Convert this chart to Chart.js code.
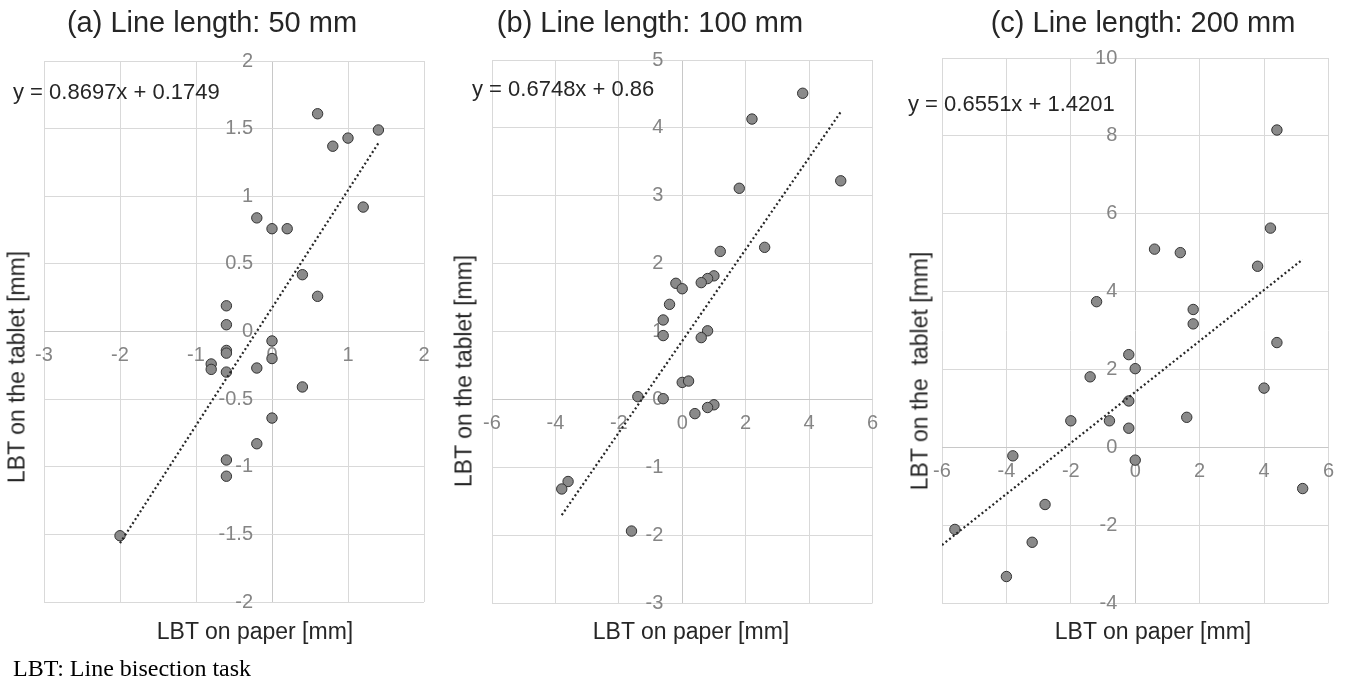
<!DOCTYPE html>
<html>
<head>
<meta charset="utf-8">
<script src="https://cdn.jsdelivr.net/npm/chart.js@4.4.0/dist/chart.umd.min.js"></script>
<style>
    body { margin: 0; background: #fff; width: 1346px; height: 684px; position: relative; overflow: hidden;
           font-family: "Liberation Sans", Arial, sans-serif; color: #262626; }
    canvas { position: absolute; top: 0; }
    .t { position: absolute; line-height: 1; white-space: pre; }
    .title { font-size: 29px; transform: translateX(-50%); }
    .xt { font-size: 23px; transform: translateX(-50%); }
    .yt { font-size: 23px; transform: translate(-50%, -50%) rotate(-90deg); }
    .eq { font-size: 22px; }
    .note { font-family: "Liberation Serif", "Times New Roman", serif; font-size: 24px; left: 13px; top: 656px; color: #000; }
</style>
</head>
<body>
<canvas id="chartA" width="445" height="684" style="left:0px"></canvas>
<canvas id="chartB" width="445" height="684" style="left:445px"></canvas>
<canvas id="chartC" width="456" height="684" style="left:890px"></canvas>

<div class="t title" id="titleA" style="left:212px; top:8px"></div>
<div class="t title" id="titleB" style="left:650px; top:8px"></div>
<div class="t title" id="titleC" style="left:1143px; top:8px"></div>

<div class="t eq" id="eqA" style="left:13px; top:81px"></div>
<div class="t eq" id="eqB" style="left:472px; top:78px"></div>
<div class="t eq" id="eqC" style="left:908px; top:93px"></div>

<div class="t xt" id="xtA" style="left:255px; top:620px"></div>
<div class="t xt" id="xtB" style="left:691px; top:620px"></div>
<div class="t xt" id="xtC" style="left:1153px; top:620px"></div>

<div class="t yt" id="ytA" style="left:17px; top:367px"></div>
<div class="t yt" id="ytB" style="left:464px; top:371px"></div>
<div class="t yt" id="ytC" style="left:920px; top:371px"></div>

<div class="t note" id="note"></div>

<script>
// (a) 50 mm
const aX = [0.6, 0.8, 1.0, 1.4, 1.2, -0.2, 0, 0.2, 0.4, 0.6, -0.6, -0.6, 0, -0.6, -0.6, 0, -0.8, -0.8, -0.6, -0.2, 0.4, 0, -0.2, -0.6, -0.6, -2];
const aY = [1.61, 1.37, 1.43, 1.49, 0.92, 0.84, 0.76, 0.76, 0.42, 0.26, 0.19, 0.05, -0.07, -0.14, -0.16, -0.2, -0.24, -0.28, -0.3, -0.27, -0.41, -0.64, -0.83, -0.95, -1.07, -1.51];
const aTrend = [0.8697, 0.1749];
const aTrendX = [-2, 1.4];
const aXTicks = [-3, -2, -1, 0, 1, 2];
const aYTicks = [-2, -1.5, -1, -0.5, 0, 0.5, 1, 1.5, 2];

// (b) 100 mm
const bX = [3.8, 2.2, 1.8, 5.0, 2.6, 1.2, 1.0, 0.8, 0.6, -0.2, 0, -0.4, -0.6, -0.6, 0.8, 0.6, 0, 0.2, -1.4, -0.6, 1.0, 0.8, 0.4, -3.6, -3.8, -1.6];
const bY = [4.51, 4.13, 3.11, 3.22, 2.24, 2.18, 1.82, 1.78, 1.72, 1.71, 1.63, 1.40, 1.17, 0.94, 1.01, 0.91, 0.25, 0.27, 0.04, 0.01, -0.08, -0.12, -0.21, -1.21, -1.32, -1.94];
const bTrend = [0.6748, 0.86];
const bTrendX = [-3.8, 5.0];
const bXTicks = [-6, -4, -2, 0, 2, 4, 6];
const bYTicks = [-3, -2, -1, 0, 1, 2, 3, 4, 5];

// (c) 200 mm
const cX = [4.4, 4.2, 0.6, 1.4, 3.8, -1.2, 1.8, 1.8, 4.4, -0.2, 0, -1.4, 4.0, -0.2, -2.0, -0.8, 1.6, -0.2, -3.8, 0, 5.2, -2.8, -5.6, -3.2, -4.0];
const cY = [8.15, 5.63, 5.09, 5.0, 4.65, 3.74, 3.54, 3.17, 2.69, 2.38, 2.02, 1.81, 1.52, 1.19, 0.68, 0.68, 0.77, 0.49, -0.22, -0.33, -1.06, -1.47, -2.11, -2.44, -3.32];
const cTrend = [0.6551, 1.4201];
const cTrendX = [-6, 5.2];
const cXTicks = [-6, -4, -2, 0, 2, 4, 6];
const cYTicks = [-4, -2, 0, 2, 4, 6, 8, 10];

const titles = ['(a) Line length: 50 mm', '(b) Line length: 100 mm', '(c) Line length: 200 mm'];
const equations = ['y = 0.8697x + 0.1749', 'y = 0.6748x + 0.86', 'y = 0.6551x + 1.4201'];
const xTitles = ['LBT on paper [mm]', 'LBT on paper [mm]', 'LBT on paper [mm]'];
const yTitles = ['LBT on the tablet [mm]', 'LBT on the tablet [mm]', 'LBT on the  tablet [mm]'];
const note = 'LBT: Line bisection task';

['A', 'B', 'C'].forEach((k, i) => {
    document.getElementById('title' + k).textContent = titles[i];
    document.getElementById('eq' + k).textContent = equations[i];
    document.getElementById('xt' + k).textContent = xTitles[i];
    document.getElementById('yt' + k).textContent = yTitles[i];
});
document.getElementById('note').textContent = note;

const tickFont = { family: '"Liberation Sans", Arial, sans-serif', size: 20 };
const tickColor = '#858585';

function makeChart(id, xs, ys, trend, trendX, xTicks, yTicks, pad, labelGap) {
    const canvas = document.getElementById(id);
    const xMin = xTicks[0], xMax = xTicks[xTicks.length - 1];
    const yMin = yTicks[0], yMax = yTicks[yTicks.length - 1];
    // y labels sit a little left of the x = 0 line
    const pxPerUnit = (canvas.width - pad.left - pad.right) / (xMax - xMin);
    const yAxisAt = -labelGap / pxPerUnit;

    const points = xs.map((x, i) => ({ x: x, y: ys[i] }));
    const line = trendX.map(x => ({ x: x, y: trend[0] * x + trend[1] }));

    return new Chart(canvas.getContext('2d'), {
        type: 'scatter',
        data: {
            datasets: [{
                type: 'line',
                data: line,
                borderColor: '#262626',
                borderWidth: 2.2,
                borderDash: [2, 2.6],
                pointRadius: 0,
                fill: false,
                order: 0
            }, {
                data: points,
                backgroundColor: '#8a8a8a',
                borderColor: '#333333',
                borderWidth: 1,
                pointRadius: 5.2,
                order: 1
            }]
        },
        options: {
            responsive: false,
            animation: false,
            events: [],
            layout: { padding: pad },
            plugins: { legend: { display: false }, tooltip: { enabled: false } },
            scales: {
                x: {
                    type: 'linear',
                    min: xMin, max: xMax,
                    position: { y: 0 },
                    afterFit: s => { s.height = 0; },
                    afterBuildTicks: s => { s.ticks = xTicks.map(v => ({ value: v })); },
                    grid: { color: ctx => ctx.tick && ctx.tick.value === 0 ? '#c8c8c8' : '#d9d9d9', drawTicks: false },
                    border: { display: false },
                    ticks: { padding: 12, color: tickColor, font: tickFont, autoSkip: false, maxRotation: 0, callback: v => String(v) }
                },
                y: {
                    type: 'linear',
                    min: yMin, max: yMax,
                    position: { x: yAxisAt },
                    afterFit: s => { s.width = 0; },
                    afterBuildTicks: s => { s.ticks = yTicks.map(v => ({ value: v })); },
                    grid: { color: ctx => ctx.tick && ctx.tick.value === 0 ? '#c8c8c8' : '#d9d9d9', drawTicks: false },
                    border: { display: false },
                    ticks: { padding: 0, color: tickColor, font: tickFont, autoSkip: false, callback: v => String(v) }
                }
            }
        }
    });
}

makeChart('chartA', aX, aY, aTrend, aTrendX, aXTicks, aYTicks, { left: 44, top: 61, right: 21, bottom: 82 }, 19);
makeChart('chartB', bX, bY, bTrend, bTrendX, bXTicks, bYTicks, { left: 47, top: 60, right: 14, bottom: 81 }, 19);
makeChart('chartC', cX, cY, cTrend, cTrendX, cXTicks, cYTicks, { left: 52, top: 58, right: 16, bottom: 81 }, 18);
</script>
</body>
</html>
